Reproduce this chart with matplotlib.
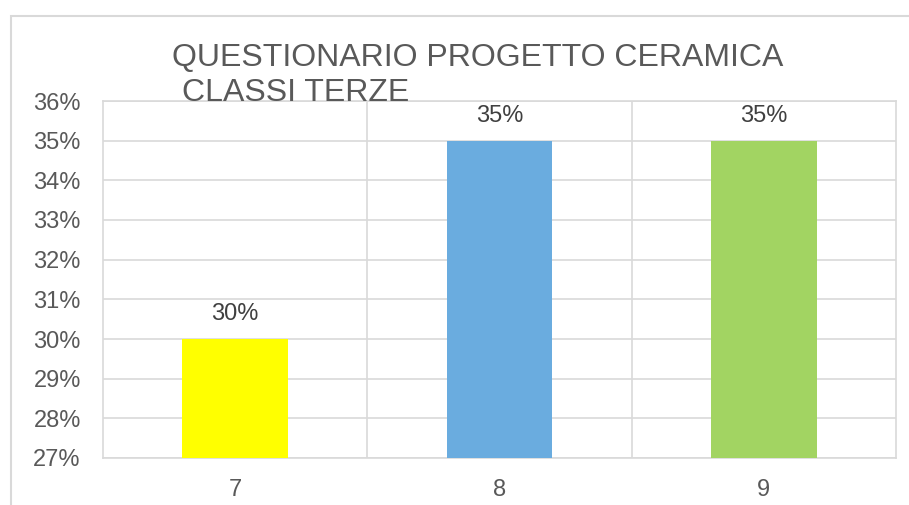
import matplotlib.pyplot as plt
from matplotlib.patches import Rectangle
from matplotlib.ticker import FuncFormatter

# Survey results per class
classes = ['7', '8', '9']
shares = [30, 35, 35]
bar_colors = ['#FFFF00', '#6AACDF', '#A2D462']
y_ticks = list(range(27, 37))

plt.rcParams['font.family'] = ['Liberation Sans', 'DejaVu Sans']
grid_color = '#D9D9D9'
text_color = '#595959'

fig = plt.figure(figsize=(9.09, 5.05), dpi=100)

# Outer chart frame (only top and left edges visible)
fig.patches.append(Rectangle((11 / 909, -0.2), 1.2, 1.2 - 16 / 505,
                             transform=fig.transFigure, fill=False,
                             edgecolor=grid_color, linewidth=1.5))

ax = fig.add_axes([103 / 909, 47 / 505, 793 / 909, 357 / 505])

x = range(len(classes))
ax.bar(x, shares, width=0.4, color=bar_colors, zorder=3)

ax.set_xlim(-0.5, len(classes) - 0.5)
ax.set_ylim(27, 36)
ax.set_yticks(y_ticks)
ax.yaxis.set_major_formatter(FuncFormatter(lambda v, p: f'{v:.0f}%'))
ax.set_xticks(list(x))
ax.set_xticklabels(classes)
ax.set_xticks([i + 0.5 for i in range(len(classes) - 1)], minor=True)

ax.grid(axis='y', which='major', color=grid_color, linewidth=1.2, zorder=0)
ax.grid(axis='x', which='minor', color=grid_color, linewidth=1.2, zorder=0)
ax.tick_params(which='both', length=0)
ax.tick_params(axis='y', labelsize=17, labelcolor=text_color, pad=16)
ax.tick_params(axis='x', labelsize=17, labelcolor=text_color, pad=15)
for s in ax.spines.values():
    s.set_color(grid_color)
    s.set_linewidth(1.2)

# Value labels above bars
for xi, v in zip(x, shares):
    ax.annotate(f'{v}%', (xi, v), xytext=(0, 10), textcoords='offset points',
                ha='center', va='bottom', fontsize=17, color='#404040')

fig.text(172 / 909, 1 - 66 / 505, 'QUESTIONARIO PROGETTO CERAMICA',
         fontsize=23, color=text_color, ha='left', va='baseline')
fig.text(182 / 909, 1 - 101 / 505, 'CLASSI TERZE',
         fontsize=23, color=text_color, ha='left', va='baseline')

fig.savefig('out.png', dpi=100)
